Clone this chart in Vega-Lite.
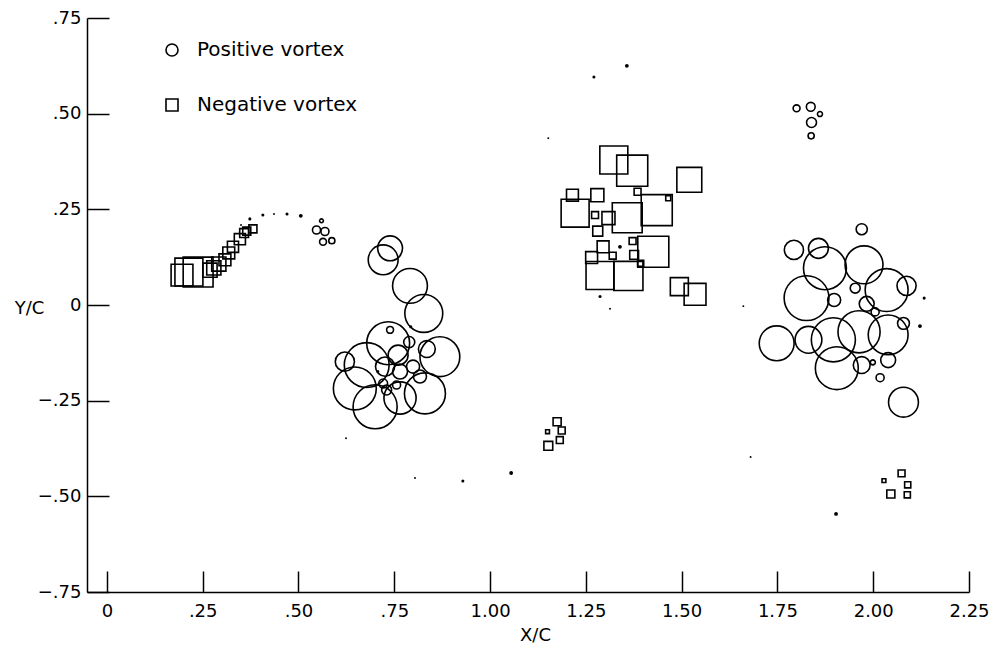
{
  "$schema": "https://vega.github.io/schema/vega-lite/v6.json",
  "width": 882,
  "height": 574,
  "autosize": {"type": "none"},
  "padding": {"left": 87, "top": 18, "right": 28, "bottom": 62},
  "background": "white",
  "config": {
    "view": {"stroke": null},
    "axis": {
      "grid": false,
      "domainColor": "black",
      "domainWidth": 1.5,
      "tickColor": "black",
      "tickWidth": 1.5,
      "labelColor": "black",
      "labelFont": "DejaVu Sans",
      "labelFontSize": 18,
      "titleColor": "black",
      "titleFont": "DejaVu Sans",
      "titleFontSize": 18,
      "titleFontWeight": "normal"
    },
    "legend": {
      "labelFont": "DejaVu Sans",
      "labelFontSize": 20,
      "labelColor": "black",
      "labelLimit": 0
    }
  },
  "data": {
    "values": [
      {"x": 0.196, "y": 0.078, "D": 0.057, "type": "Negative vortex"},
      {"x": 0.214, "y": 0.086, "D": 0.073, "type": "Negative vortex"},
      {"x": 0.238, "y": 0.086, "D": 0.078, "type": "Negative vortex"},
      {"x": 0.269, "y": 0.091, "D": 0.037, "type": "Negative vortex"},
      {"x": 0.279, "y": 0.097, "D": 0.037, "type": "Negative vortex"},
      {"x": 0.292, "y": 0.107, "D": 0.037, "type": "Negative vortex"},
      {"x": 0.308, "y": 0.118, "D": 0.031, "type": "Negative vortex"},
      {"x": 0.318, "y": 0.136, "D": 0.031, "type": "Negative vortex"},
      {"x": 0.329, "y": 0.152, "D": 0.029, "type": "Negative vortex"},
      {"x": 0.347, "y": 0.172, "D": 0.029, "type": "Negative vortex"},
      {"x": 0.358, "y": 0.188, "D": 0.023, "type": "Negative vortex"},
      {"x": 0.365, "y": 0.193, "D": 0.021, "type": "Negative vortex"},
      {"x": 0.381, "y": 0.199, "D": 0.021, "type": "Negative vortex"},
      {"x": 1.323, "y": 0.379, "D": 0.073, "type": "Negative vortex"},
      {"x": 1.371, "y": 0.351, "D": 0.081, "type": "Negative vortex"},
      {"x": 1.520, "y": 0.327, "D": 0.065, "type": "Negative vortex"},
      {"x": 1.215, "y": 0.287, "D": 0.031, "type": "Negative vortex"},
      {"x": 1.280, "y": 0.287, "D": 0.034, "type": "Negative vortex"},
      {"x": 1.385, "y": 0.296, "D": 0.018, "type": "Negative vortex"},
      {"x": 1.465, "y": 0.279, "D": 0.013, "type": "Negative vortex"},
      {"x": 1.222, "y": 0.240, "D": 0.073, "type": "Negative vortex"},
      {"x": 1.435, "y": 0.248, "D": 0.081, "type": "Negative vortex"},
      {"x": 1.358, "y": 0.228, "D": 0.078, "type": "Negative vortex"},
      {"x": 1.274, "y": 0.235, "D": 0.018, "type": "Negative vortex"},
      {"x": 1.309, "y": 0.227, "D": 0.034, "type": "Negative vortex"},
      {"x": 1.281, "y": 0.193, "D": 0.026, "type": "Negative vortex"},
      {"x": 1.372, "y": 0.167, "D": 0.018, "type": "Negative vortex"},
      {"x": 1.426, "y": 0.139, "D": 0.081, "type": "Negative vortex"},
      {"x": 1.295, "y": 0.152, "D": 0.031, "type": "Negative vortex"},
      {"x": 1.265, "y": 0.124, "D": 0.031, "type": "Negative vortex"},
      {"x": 1.376, "y": 0.131, "D": 0.023, "type": "Negative vortex"},
      {"x": 1.320, "y": 0.129, "D": 0.018, "type": "Negative vortex"},
      {"x": 1.287, "y": 0.077, "D": 0.073, "type": "Negative vortex"},
      {"x": 1.361, "y": 0.076, "D": 0.076, "type": "Negative vortex"},
      {"x": 1.393, "y": 0.109, "D": 0.016, "type": "Negative vortex"},
      {"x": 1.494, "y": 0.048, "D": 0.047, "type": "Negative vortex"},
      {"x": 1.535, "y": 0.028, "D": 0.057, "type": "Negative vortex"},
      {"x": 1.175, "y": -0.305, "D": 0.021, "type": "Negative vortex"},
      {"x": 1.187, "y": -0.328, "D": 0.018, "type": "Negative vortex"},
      {"x": 1.150, "y": -0.331, "D": 0.010, "type": "Negative vortex"},
      {"x": 1.182, "y": -0.353, "D": 0.018, "type": "Negative vortex"},
      {"x": 1.152, "y": -0.368, "D": 0.023, "type": "Negative vortex"},
      {"x": 2.074, "y": -0.440, "D": 0.018, "type": "Negative vortex"},
      {"x": 2.028, "y": -0.459, "D": 0.010, "type": "Negative vortex"},
      {"x": 2.090, "y": -0.470, "D": 0.016, "type": "Negative vortex"},
      {"x": 2.046, "y": -0.494, "D": 0.021, "type": "Negative vortex"},
      {"x": 2.089, "y": -0.496, "D": 0.016, "type": "Negative vortex"},
      {"x": 0.560, "y": 0.220, "D": 0.010, "type": "Positive vortex"},
      {"x": 0.547, "y": 0.196, "D": 0.021, "type": "Positive vortex"},
      {"x": 0.569, "y": 0.192, "D": 0.021, "type": "Positive vortex"},
      {"x": 0.564, "y": 0.165, "D": 0.018, "type": "Positive vortex"},
      {"x": 0.587, "y": 0.168, "D": 0.016, "type": "Positive vortex"},
      {"x": 0.739, "y": 0.148, "D": 0.065, "type": "Positive vortex"},
      {"x": 0.721, "y": 0.118, "D": 0.078, "type": "Positive vortex"},
      {"x": 0.791, "y": 0.050, "D": 0.091, "type": "Positive vortex"},
      {"x": 0.827, "y": -0.022, "D": 0.099, "type": "Positive vortex"},
      {"x": 0.739, "y": -0.065, "D": 0.018, "type": "Positive vortex"},
      {"x": 0.734, "y": -0.100, "D": 0.112, "type": "Positive vortex"},
      {"x": 0.789, "y": -0.097, "D": 0.029, "type": "Positive vortex"},
      {"x": 0.835, "y": -0.115, "D": 0.044, "type": "Positive vortex"},
      {"x": 0.869, "y": -0.135, "D": 0.104, "type": "Positive vortex"},
      {"x": 0.621, "y": -0.148, "D": 0.050, "type": "Positive vortex"},
      {"x": 0.678, "y": -0.157, "D": 0.117, "type": "Positive vortex"},
      {"x": 0.760, "y": -0.131, "D": 0.052, "type": "Positive vortex"},
      {"x": 0.726, "y": -0.161, "D": 0.050, "type": "Positive vortex"},
      {"x": 0.765, "y": -0.174, "D": 0.039, "type": "Positive vortex"},
      {"x": 0.799, "y": -0.161, "D": 0.034, "type": "Positive vortex"},
      {"x": 0.817, "y": -0.187, "D": 0.034, "type": "Positive vortex"},
      {"x": 0.647, "y": -0.218, "D": 0.112, "type": "Positive vortex"},
      {"x": 0.700, "y": -0.266, "D": 0.115, "type": "Positive vortex"},
      {"x": 0.765, "y": -0.243, "D": 0.084, "type": "Positive vortex"},
      {"x": 0.830, "y": -0.231, "D": 0.107, "type": "Positive vortex"},
      {"x": 0.730, "y": -0.222, "D": 0.026, "type": "Positive vortex"},
      {"x": 0.756, "y": -0.209, "D": 0.021, "type": "Positive vortex"},
      {"x": 0.721, "y": -0.205, "D": 0.023, "type": "Positive vortex"},
      {"x": 1.800, "y": 0.514, "D": 0.018, "type": "Positive vortex"},
      {"x": 1.837, "y": 0.518, "D": 0.023, "type": "Positive vortex"},
      {"x": 1.861, "y": 0.499, "D": 0.013, "type": "Positive vortex"},
      {"x": 1.839, "y": 0.477, "D": 0.026, "type": "Positive vortex"},
      {"x": 1.838, "y": 0.442, "D": 0.016, "type": "Positive vortex"},
      {"x": 1.970, "y": 0.198, "D": 0.029, "type": "Positive vortex"},
      {"x": 1.793, "y": 0.144, "D": 0.050, "type": "Positive vortex"},
      {"x": 1.857, "y": 0.148, "D": 0.052, "type": "Positive vortex"},
      {"x": 1.874, "y": 0.096, "D": 0.112, "type": "Positive vortex"},
      {"x": 1.976, "y": 0.105, "D": 0.099, "type": "Positive vortex"},
      {"x": 2.035, "y": 0.039, "D": 0.112, "type": "Positive vortex"},
      {"x": 2.087, "y": 0.050, "D": 0.050, "type": "Positive vortex"},
      {"x": 1.953, "y": 0.044, "D": 0.026, "type": "Positive vortex"},
      {"x": 1.826, "y": 0.018, "D": 0.117, "type": "Positive vortex"},
      {"x": 1.898, "y": 0.013, "D": 0.034, "type": "Positive vortex"},
      {"x": 1.983, "y": 0.003, "D": 0.039, "type": "Positive vortex"},
      {"x": 2.005, "y": -0.018, "D": 0.021, "type": "Positive vortex"},
      {"x": 2.079, "y": -0.048, "D": 0.031, "type": "Positive vortex"},
      {"x": 1.748, "y": -0.100, "D": 0.091, "type": "Positive vortex"},
      {"x": 1.831, "y": -0.091, "D": 0.070, "type": "Positive vortex"},
      {"x": 1.896, "y": -0.091, "D": 0.115, "type": "Positive vortex"},
      {"x": 1.963, "y": -0.070, "D": 0.110, "type": "Positive vortex"},
      {"x": 2.039, "y": -0.078, "D": 0.104, "type": "Positive vortex"},
      {"x": 1.905, "y": -0.165, "D": 0.112, "type": "Positive vortex"},
      {"x": 1.970, "y": -0.157, "D": 0.044, "type": "Positive vortex"},
      {"x": 2.039, "y": -0.144, "D": 0.039, "type": "Positive vortex"},
      {"x": 2.018, "y": -0.190, "D": 0.021, "type": "Positive vortex"},
      {"x": 1.999, "y": -0.150, "D": 0.013, "type": "Positive vortex"},
      {"x": 2.079, "y": -0.254, "D": 0.078, "type": "Positive vortex"},
      {"x": 0.350, "y": 0.209, "D": 0.005, "type": "dot"},
      {"x": 0.373, "y": 0.225, "D": 0.008, "type": "dot"},
      {"x": 0.407, "y": 0.235, "D": 0.008, "type": "dot"},
      {"x": 0.436, "y": 0.238, "D": 0.005, "type": "dot"},
      {"x": 0.470, "y": 0.238, "D": 0.008, "type": "dot"},
      {"x": 0.506, "y": 0.233, "D": 0.010, "type": "dot"},
      {"x": 0.793, "y": -0.057, "D": 0.008, "type": "dot"},
      {"x": 0.707, "y": -0.174, "D": 0.008, "type": "dot"},
      {"x": 1.339, "y": 0.152, "D": 0.010, "type": "dot"},
      {"x": 1.287, "y": 0.022, "D": 0.008, "type": "dot"},
      {"x": 1.152, "y": 0.436, "D": 0.005, "type": "dot"},
      {"x": 1.313, "y": -0.010, "D": 0.005, "type": "dot"},
      {"x": 1.661, "y": -0.003, "D": 0.005, "type": "dot"},
      {"x": 2.133, "y": 0.018, "D": 0.008, "type": "dot"},
      {"x": 2.122, "y": -0.055, "D": 0.010, "type": "dot"},
      {"x": 0.624, "y": -0.348, "D": 0.005, "type": "dot"},
      {"x": 0.804, "y": -0.452, "D": 0.005, "type": "dot"},
      {"x": 0.929, "y": -0.460, "D": 0.008, "type": "dot"},
      {"x": 1.055, "y": -0.439, "D": 0.010, "type": "dot"},
      {"x": 1.680, "y": -0.397, "D": 0.005, "type": "dot"},
      {"x": 1.903, "y": -0.546, "D": 0.010, "type": "dot"},
      {"x": 1.271, "y": 0.596, "D": 0.008, "type": "dot"},
      {"x": 1.357, "y": 0.625, "D": 0.010, "type": "dot"}
    ]
  },
  "encoding": {
    "x": {
      "field": "x",
      "type": "quantitative",
      "scale": {"domain": [-0.052, 2.25], "nice": false, "zero": false},
      "axis": {
        "title": "X/C",
        "values": [0, 0.25, 0.5, 0.75, 1, 1.25, 1.5, 1.75, 2, 2.25],
        "tickSize": -21,
        "labelPadding": 31,
        "labelExpr": "datum.value == 0 ? '0' : (datum.value < 1 ? replace(format(datum.value, '.2f'), '0.', '.') : format(datum.value, '.2f'))",
        "labelFlush": false,
        "titleX": 448,
        "titleY": 43,
        "titleBaseline": "middle",
        "titleAlign": "center"
      }
    },
    "y": {
      "field": "y",
      "type": "quantitative",
      "scale": {"domain": [-0.75, 0.75], "nice": false, "zero": false},
      "axis": {
        "title": "Y/C",
        "values": [-0.75, -0.5, -0.25, 0, 0.25, 0.5, 0.75],
        "tickSize": -22,
        "labelPadding": 28,
        "labelExpr": "datum.value == 0 ? '0' : replace(format(datum.value, '.2f'), '0.', '.')",
        "labelFlush": false,
        "titleAngle": 0,
        "titleX": -58,
        "titleY": 290,
        "titleBaseline": "middle",
        "titleAlign": "center"
      }
    },
    "size": {
      "field": "D",
      "type": "quantitative",
      "scale": {"type": "pow", "exponent": 2, "domain": [0, 0.12], "range": [0, 2113]},
      "legend": null
    }
  },
  "layer": [
    {
      "transform": [{"filter": "datum.type != 'dot'"}],
      "mark": {"type": "point", "filled": false, "color": "black", "strokeWidth": 1.6, "opacity": 1},
      "encoding": {
        "shape": {
          "field": "type",
          "type": "nominal",
          "scale": {"domain": ["Positive vortex", "Negative vortex"], "range": ["circle", "square"]},
          "legend": {
            "title": null,
            "orient": "none",
            "legendX": 75,
            "legendY": 22,
            "symbolSize": 144,
            "symbolStrokeColor": "black",
            "symbolStrokeWidth": 1.6,
            "symbolFillColor": "transparent",
            "labelOffset": 15,
            "labelLimit": 0,
            "rowPadding": 35,
            "padding": 0
          }
        }
      }
    },
    {
      "transform": [{"filter": "datum.type == 'dot'"}],
      "mark": {"type": "circle", "color": "black", "opacity": 1}
    }
  ]
}
